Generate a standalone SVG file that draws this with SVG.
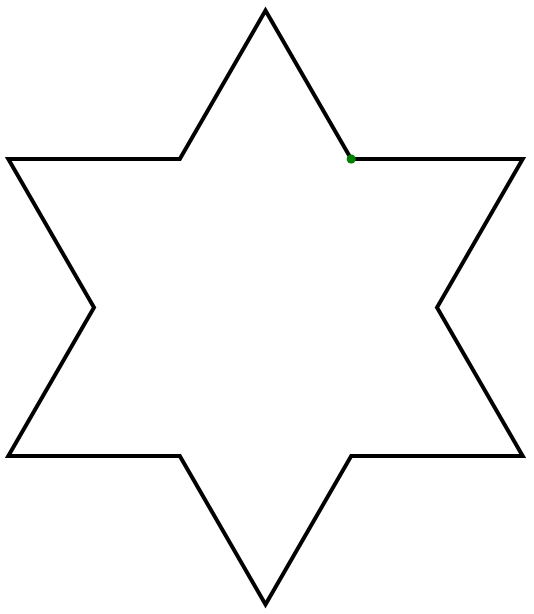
<svg xmlns="http://www.w3.org/2000/svg" width="534" height="614" viewBox="0 0 534 614">
<style>
.star{fill:none;stroke:#000;stroke-width:4;stroke-linejoin:miter;stroke-miterlimit:10}
.dot{fill:#008000}
</style>
<rect width="534" height="614" fill="#fff"/>
<g id="star">
<polygon class="star" points="351.2,159 522.7,159 437,307.5 522.7,456 351.2,456 265.5,604.5 179.8,456 8.3,456 94,307.5 8.3,159 179.8,159 265.5,10.5"/>
</g>
<g id="start-point">
<circle class="dot" cx="351.2" cy="159" r="4.5"/>
</g>
</svg>
